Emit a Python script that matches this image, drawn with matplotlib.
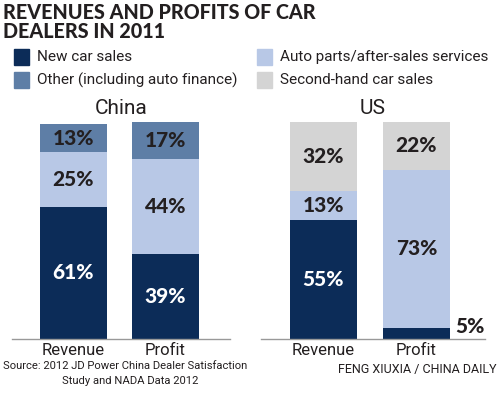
import numpy as np
import matplotlib.pyplot as plt
from matplotlib.patches import Rectangle

plt.rcParams['font.family'] = ['Roboto', 'DejaVu Sans']
HEAVY = ['Lato', 'Roboto', 'DejaVu Sans']

categories = ["Revenue", "Profit"]

china_new = [61, 39]
china_parts = [25, 44]
china_other = [13, 17]

us_new = [55, 5]
us_parts = [13, 73]
us_second = [32, 22]

NAVY = '#0c2c58'
LIGHT = '#b8c8e6'
MID = '#5e7ea6'
GREY = '#d4d4d4'
INK = '#231f20'

W, H = 500, 395
fig = plt.figure(figsize=(W / 100, H / 100), dpi=100)


def px_axes(x0, y0, x1, y1):
    # pixel box (top-left origin) -> figure axes
    return fig.add_axes([x0 / W, 1 - y1 / H, (x1 - x0) / W, (y1 - y0) / H])


def draw_panel(ax, title, stacks, colors, xlim, width):
    x = np.arange(len(categories))
    bottom = np.zeros(len(categories))
    for vals, col in zip(stacks, colors):
        vals = np.array(vals, dtype=float)
        ax.bar(x, vals, width=width, bottom=bottom, color=col, edgecolor='none')
        for i, v in enumerate(vals):
            txt_col = 'white' if col == NAVY else INK
            if v < 8:
                ax.text(x[i] + width / 2 + 0.06, bottom[i] + 1.2, f"{v:.0f}%",
                        ha='left', va='bottom', fontsize=15, fontweight='black',
                        family=HEAVY, color=INK)
            else:
                ax.text(x[i], bottom[i] + v / 2, f"{v:.0f}%", ha='center', va='center',
                        fontsize=15, fontweight='black', family=HEAVY, color=txt_col)
        bottom += vals
    ax.set_xlim(*xlim)
    ax.set_ylim(0, 100)
    ax.axhline(0, color='#999999', lw=1, clip_on=False)
    for s in ax.spines.values():
        s.set_visible(False)
    ax.set_yticks([])
    ax.set_xticks(x)
    ax.set_xticklabels(categories, fontsize=12, color=INK)
    ax.tick_params(axis='x', length=0, pad=3)
    ax.set_title(title, fontsize=15, color=INK, pad=6)


ax_cn = px_axes(12, 122, 230, 339)
draw_panel(ax_cn, "China", [china_new, china_parts, china_other],
           [NAVY, LIGHT, MID], (-0.668, 1.701), 0.728)

ax_us = px_axes(261, 122, 485, 339)
draw_panel(ax_us, "US", [us_new, us_parts, us_second],
           [NAVY, LIGHT, GREY], (-0.672, 1.737), 0.72)

# title
fig.text(3 / W, 1 - 3 / H, "REVENUES AND PROFITS OF CAR\nDEALERS IN 2011",
         ha='left', va='top', fontsize=14.2, fontweight='black', family=HEAVY,
         color=INK, linespacing=0.98)

# legend
legend_items = [("New car sales", NAVY, 14, 49),
                ("Auto parts/after-sales services", LIGHT, 257, 49),
                ("Other (including auto finance)", MID, 14, 72),
                ("Second-hand car sales", GREY, 257, 72)]
for label, col, lx, ly in legend_items:
    fig.patches.append(Rectangle((lx / W, 1 - (ly + 16) / H), 15 / W, 16 / H,
                                 transform=fig.transFigure, color=col))
    fig.text((lx + 23) / W, 1 - (ly + 8) / H, label, ha='left', va='center',
             fontsize=11, color=INK)

# footer
fig.text(3 / W, 1 - 366 / H, "Source: 2012 JD Power China Dealer Satisfaction",
         ha='left', va='center', fontsize=8.1, color=INK)
fig.text(130 / W, 1 - 381 / H, "Study and NADA Data 2012",
         ha='center', va='center', fontsize=8.1, color=INK)
fig.text(497 / W, 1 - 369 / H, "FENG XIUXIA / CHINA DAILY", ha='right', va='center',
         fontsize=9, color=INK)

fig.savefig("out.png", dpi=100)
